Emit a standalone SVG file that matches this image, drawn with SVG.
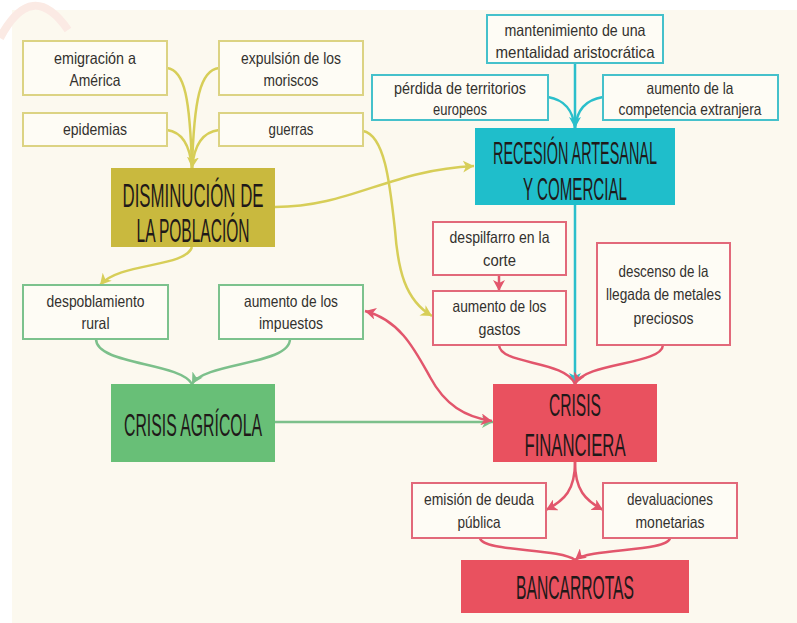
<svg xmlns="http://www.w3.org/2000/svg" width="797" height="623" viewBox="0 0 797 623">
<defs>
<style>
.t{font-family:"Liberation Sans Narrow","Liberation Sans",Arial,sans-serif;font-size:16.5px;fill:#33312e;text-anchor:middle}
.h{font-family:"Liberation Sans Narrow","Liberation Sans",Arial,sans-serif;font-size:32px;fill:#1f1919;text-anchor:middle}
.by{fill:#fefcf5;stroke:#dcd383;stroke-width:2}
.bt{fill:#fefcf5;stroke:#45c1cb;stroke-width:2}
.bg{fill:#fefcf5;stroke:#7cc28d;stroke-width:2}
.br{fill:#fefcf5;stroke:#e2697a;stroke-width:2}
.cy{fill:none;stroke:#d7ce58;stroke-width:2.5}
.ct{fill:none;stroke:#2bbfcb;stroke-width:2.5}
.cg{fill:none;stroke:#7cc08b;stroke-width:2.5}
.cr{fill:none;stroke:#e2566c;stroke-width:2.5}
</style>
<marker id="aY" markerUnits="userSpaceOnUse" markerWidth="12" markerHeight="12" refX="11" refY="6" orient="auto"><path d="M0,0 L11,6 L0,12 L3,6 z" fill="#d7ce58"/></marker>
<marker id="aT" markerUnits="userSpaceOnUse" markerWidth="12" markerHeight="12" refX="11" refY="6" orient="auto"><path d="M0,0 L11,6 L0,12 L3,6 z" fill="#2bbfcb"/></marker>
<marker id="aG" markerUnits="userSpaceOnUse" markerWidth="12" markerHeight="12" refX="11" refY="6" orient="auto"><path d="M0,0 L11,6 L0,12 L3,6 z" fill="#7cc08b"/></marker>
<marker id="aR" markerUnits="userSpaceOnUse" markerWidth="12" markerHeight="12" refX="11" refY="6" orient="auto-start-reverse"><path d="M0,0 L11,6 L0,12 L3,6 z" fill="#e2566c"/></marker>
</defs>
<rect x="0" y="0" width="797" height="623" fill="#ffffff"/>
<rect x="12" y="10" width="785" height="613" fill="#fcf9ef"/>
<path d="M0,38 Q32,-22 68,30" fill="none" stroke="#fbeae4" stroke-width="8"/>

<g id="connectors">
<path class="cy" d="M167,68 C185,70 190,100 192,168"/>
<path class="cy" d="M219,68 C200,70 194,100 192,168"/>
<path class="cy" d="M167,130 C182,132 190,145 192,168"/>
<path class="cy" d="M219,130 C202,132 194,145 192,168" marker-end="url(#aY)"/>
<path class="cy" d="M363,131 C385,135 390,185 395,230 C398,270 405,300 432,316" marker-end="url(#aY)"/>
<path class="cy" d="M275,207 C350,207 390,170 474,166" marker-end="url(#aY)"/>
<path class="cy" d="M192,247 C185,268 120,262 100,285" marker-end="url(#aY)"/>
<path class="ct" d="M575,64 L575,128" marker-end="url(#aT)"/>
<path class="ct" d="M548,97 C565,100 573,110 575,128"/>
<path class="ct" d="M603,97 C585,100 577,110 575,128"/>
<path class="ct" d="M575,205 L575,384" marker-end="url(#aT)"/>
<path class="cg" d="M96,339 C96,365 180,362 192,384"/>
<path class="cg" d="M290,339 C290,365 205,362 192,384" marker-end="url(#aG)"/>
<path class="cg" d="M275,422 L493,422" marker-end="url(#aG)"/>
<path class="cr" d="M365,311 C400,320 415,350 430,377 C445,405 465,417 492,421" marker-start="url(#aR)" marker-end="url(#aR)"/>
<path class="cr" d="M499,275 L499,291" marker-end="url(#aR)"/>
<path class="cr" d="M499,345 C500,365 565,360 575,384"/>
<path class="cr" d="M663,345 C662,365 585,362 575,384" marker-end="url(#aR)"/>
<path class="cr" d="M575,462 C575,490 565,500 546,510" marker-end="url(#aR)"/>
<path class="cr" d="M575,462 C575,490 585,500 603,510" marker-end="url(#aR)"/>
<path class="cr" d="M480,538 C482,552 560,548 575,560"/>
<path class="cr" d="M670,538 C668,552 590,548 575,560" marker-end="url(#aR)"/>
</g>

<g id="emigracion"><rect class="by" x="23" y="41" width="144" height="54"/>
<text class="t" x="95" y="64" textLength="82" lengthAdjust="spacingAndGlyphs">emigración a</text>
<text class="t" x="95" y="86" textLength="51" lengthAdjust="spacingAndGlyphs">América</text></g>
<g id="expulsion"><rect class="by" x="219" y="41" width="144" height="54"/>
<text class="t" x="291" y="64" textLength="100" lengthAdjust="spacingAndGlyphs">expulsión de los</text>
<text class="t" x="291" y="86" textLength="55" lengthAdjust="spacingAndGlyphs">moriscos</text></g>
<g id="epidemias"><rect class="by" x="23" y="113" width="144" height="33"/>
<text class="t" x="95" y="135" textLength="64" lengthAdjust="spacingAndGlyphs">epidemias</text></g>
<g id="guerras"><rect class="by" x="219" y="113" width="144" height="33"/>
<text class="t" x="291" y="135" textLength="45" lengthAdjust="spacingAndGlyphs">guerras</text></g>
<g id="disminucion"><rect x="111" y="168" width="164" height="79" fill="#c9b93e"/>
<text class="h" x="193" y="207" textLength="141" lengthAdjust="spacingAndGlyphs" style="font-size:33px">DISMINUCIÓN DE</text>
<text class="h" x="193" y="242" textLength="113" lengthAdjust="spacingAndGlyphs" style="font-size:33px">LA POBLACIÓN</text></g>

<g id="mantenimiento"><rect class="bt" x="487" y="15" width="176" height="48"/>
<text class="t" x="575" y="36" textLength="141" lengthAdjust="spacingAndGlyphs">mantenimiento de una</text>
<text class="t" x="575" y="58" textLength="159" lengthAdjust="spacingAndGlyphs">mentalidad aristocrática</text></g>
<g id="perdida"><rect class="bt" x="372" y="75" width="176" height="45"/>
<text class="t" x="460" y="94" textLength="132" lengthAdjust="spacingAndGlyphs">pérdida de territorios</text>
<text class="t" x="460" y="115" textLength="54" lengthAdjust="spacingAndGlyphs">europeos</text></g>
<g id="competencia"><rect class="bt" x="603" y="75" width="175" height="45"/>
<text class="t" x="690" y="94" textLength="87" lengthAdjust="spacingAndGlyphs">aumento de la</text>
<text class="t" x="690" y="115" textLength="143" lengthAdjust="spacingAndGlyphs">competencia extranjera</text></g>
<g id="recesion"><rect x="475" y="128" width="200" height="77" fill="#1fbecb"/>
<text class="h" transform="translate(575,164) scale(0.5,1)" x="0" y="0" textLength="328" lengthAdjust="spacingAndGlyphs">RECESIÓN ARTESANAL</text>
<text class="h" x="575" y="200" textLength="104" lengthAdjust="spacingAndGlyphs">Y COMERCIAL</text></g>

<g id="despoblamiento"><rect class="bg" x="23" y="285" width="145" height="54"/>
<text class="t" x="95.5" y="307" textLength="98" lengthAdjust="spacingAndGlyphs">despoblamiento</text>
<text class="t" x="95.5" y="329" textLength="28" lengthAdjust="spacingAndGlyphs">rural</text></g>
<g id="impuestos"><rect class="bg" x="219" y="285" width="144" height="54"/>
<text class="t" x="291" y="307" textLength="94" lengthAdjust="spacingAndGlyphs">aumento de los</text>
<text class="t" x="291" y="329" textLength="64" lengthAdjust="spacingAndGlyphs">impuestos</text></g>
<g id="crisis-agricola"><rect x="111" y="384" width="164" height="78" fill="#68bf77"/>
<text class="h" x="193" y="436" textLength="138" lengthAdjust="spacingAndGlyphs">CRISIS AGRÍCOLA</text></g>

<g id="despilfarro"><rect class="br" x="433" y="222" width="133" height="53"/>
<text class="t" x="499.5" y="243" textLength="100" lengthAdjust="spacingAndGlyphs">despilfarro en la</text>
<text class="t" x="499.5" y="266" textLength="33" lengthAdjust="spacingAndGlyphs">corte</text></g>
<g id="gastos"><rect class="br" x="433" y="291" width="133" height="54"/>
<text class="t" x="499.5" y="312" textLength="94" lengthAdjust="spacingAndGlyphs">aumento de los</text>
<text class="t" x="499.5" y="335" textLength="42" lengthAdjust="spacingAndGlyphs">gastos</text></g>
<g id="descenso"><rect class="br" x="597" y="243" width="133" height="102"/>
<text class="t" x="663.5" y="277" textLength="90" lengthAdjust="spacingAndGlyphs">descenso de la</text>
<text class="t" x="663.5" y="300" textLength="115" lengthAdjust="spacingAndGlyphs">llegada de metales</text>
<text class="t" x="663.5" y="324" textLength="60" lengthAdjust="spacingAndGlyphs">preciosos</text></g>
<g id="crisis-financiera"><rect x="493" y="384" width="164" height="78" fill="#e9515f"/>
<text class="h" x="575" y="416" textLength="52" lengthAdjust="spacingAndGlyphs">CRISIS</text>
<text class="h" x="575" y="456" textLength="101" lengthAdjust="spacingAndGlyphs">FINANCIERA</text></g>

<g id="emision"><rect class="br" x="412" y="483" width="134" height="55"/>
<text class="t" x="479" y="505" textLength="110" lengthAdjust="spacingAndGlyphs">emisión de deuda</text>
<text class="t" x="479" y="528" textLength="43" lengthAdjust="spacingAndGlyphs">pública</text></g>
<g id="devaluaciones"><rect class="br" x="603" y="483" width="134" height="55"/>
<text class="t" x="670" y="505" textLength="86" lengthAdjust="spacingAndGlyphs">devaluaciones</text>
<text class="t" x="670" y="528" textLength="69" lengthAdjust="spacingAndGlyphs">monetarias</text></g>
<g id="bancarrotas"><rect x="461" y="560" width="228" height="53" fill="#e9515f"/>
<text class="h" x="575" y="599" textLength="118" lengthAdjust="spacingAndGlyphs" style="font-size:33px">BANCARROTAS</text></g>
</svg>
